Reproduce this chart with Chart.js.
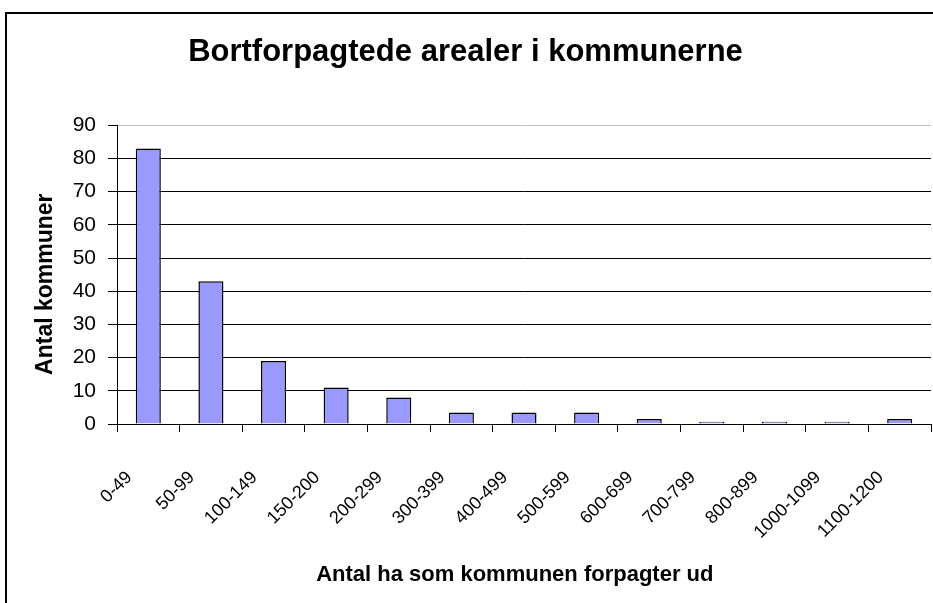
<!DOCTYPE html>
<html>
<head>
<meta charset="utf-8">
<script src="https://cdn.jsdelivr.net/npm/chart.js@4/dist/chart.umd.min.js"></script>
<style>
  html, body { margin: 0; padding: 0; background: #fff; }
  #wrap { position: relative; width: 933px; height: 603px; overflow: hidden; }
  #frame { position: absolute; left: 5px; top: 12px; width: 1000px; height: 1000px;
           border: 2px solid #000; box-sizing: border-box; pointer-events: none; }
  canvas { display: block; }
</style>
</head>
<body>
<div id="wrap">
  <canvas id="chart" width="933" height="603"></canvas>
  <div id="frame"></div>
</div>
<script>
// intervaller (ha) og antal kommuner
const categories = ["0-49", "50-99", "100-149", "150-200", "200-299", "300-399",
  "400-499", "500-599", "600-699", "700-799", "800-899", "1000-1099", "1100-1200"];
const kommuner = [83, 43, 19, 11, 8, 3.5, 3.5, 3.5, 1.5, 0.7, 0.7, 0.7, 1.5];
const yMin = 0, yMax = 90, yStep = 10;

const FONT = "'Liberation Sans', Arial, sans-serif";

const ctx = document.getElementById("chart").getContext("2d");
new Chart(ctx, {
  type: "bar",
  data: {
    labels: categories,
    datasets: [{
      label: "Antal kommuner",
      data: kommuner,
      backgroundColor: "#9999FF",
      borderColor: "#000000",
      borderWidth: 1.5,
      barPercentage: 0.4,
      categoryPercentage: 1.0,
    }],
  },
  options: {
    responsive: false,
    animation: false,
    layout: { padding: { left: 0, right: 2, top: 0, bottom: 0 } },
    plugins: {
      legend: { display: false },
      tooltip: { enabled: false },
      title: {
        display: true,
        text: "Bortforpagtede arealer i kommunerne",
        color: "#000",
        font: { family: FONT, size: 31, weight: "bold" },
        padding: { top: 34, bottom: 54 },
      },
    },
    scales: {
      x: {
        grid: {
          drawOnChartArea: false,
          drawTicks: true,
          tickLength: 8,
          tickColor: "#000",
          offset: true,
        },
        border: { color: "#000", width: 1 },
        ticks: {
          color: "#000",
          font: { family: FONT, size: 18 },
          maxRotation: 45,
          minRotation: 45,
          padding: 35,
          labelOffset: -19,
        },
        title: {
          display: true,
          // mellemrum til sidst flytter teksten lidt mod venstre som i originalen
          text: "Antal ha som kommunen forpagter ud   ",
          color: "#000",
          font: { family: FONT, size: 22, weight: "bold" },
          padding: { top: 0, bottom: 15 },
        },
        afterFit: (scale) => {
          scale.height = 179;
          scale.paddingLeft = 0;
          scale.paddingRight = 0;
        },
      },
      y: {
        min: yMin,
        max: yMax,
        ticks: {
          stepSize: yStep,
          color: "#000",
          font: { family: FONT, size: 21 },
          padding: 12,
        },
        grid: {
          color: (c) => (c.tick && c.tick.value === yMax ? "#c0c0c0" : "#000"),
          tickColor: "#000",
          tickLength: 9,
          lineWidth: 1,
        },
        border: { color: "#000", width: 1 },
        title: {
          display: true,
          text: "Antal kommuner   ",
          color: "#000",
          font: { family: FONT, size: 23, weight: "bold" },
          padding: { top: 32, bottom: 0 },
        },
        afterFit: (scale) => { scale.width = 117; },
      },
    },
  },
});
</script>
</body>
</html>
